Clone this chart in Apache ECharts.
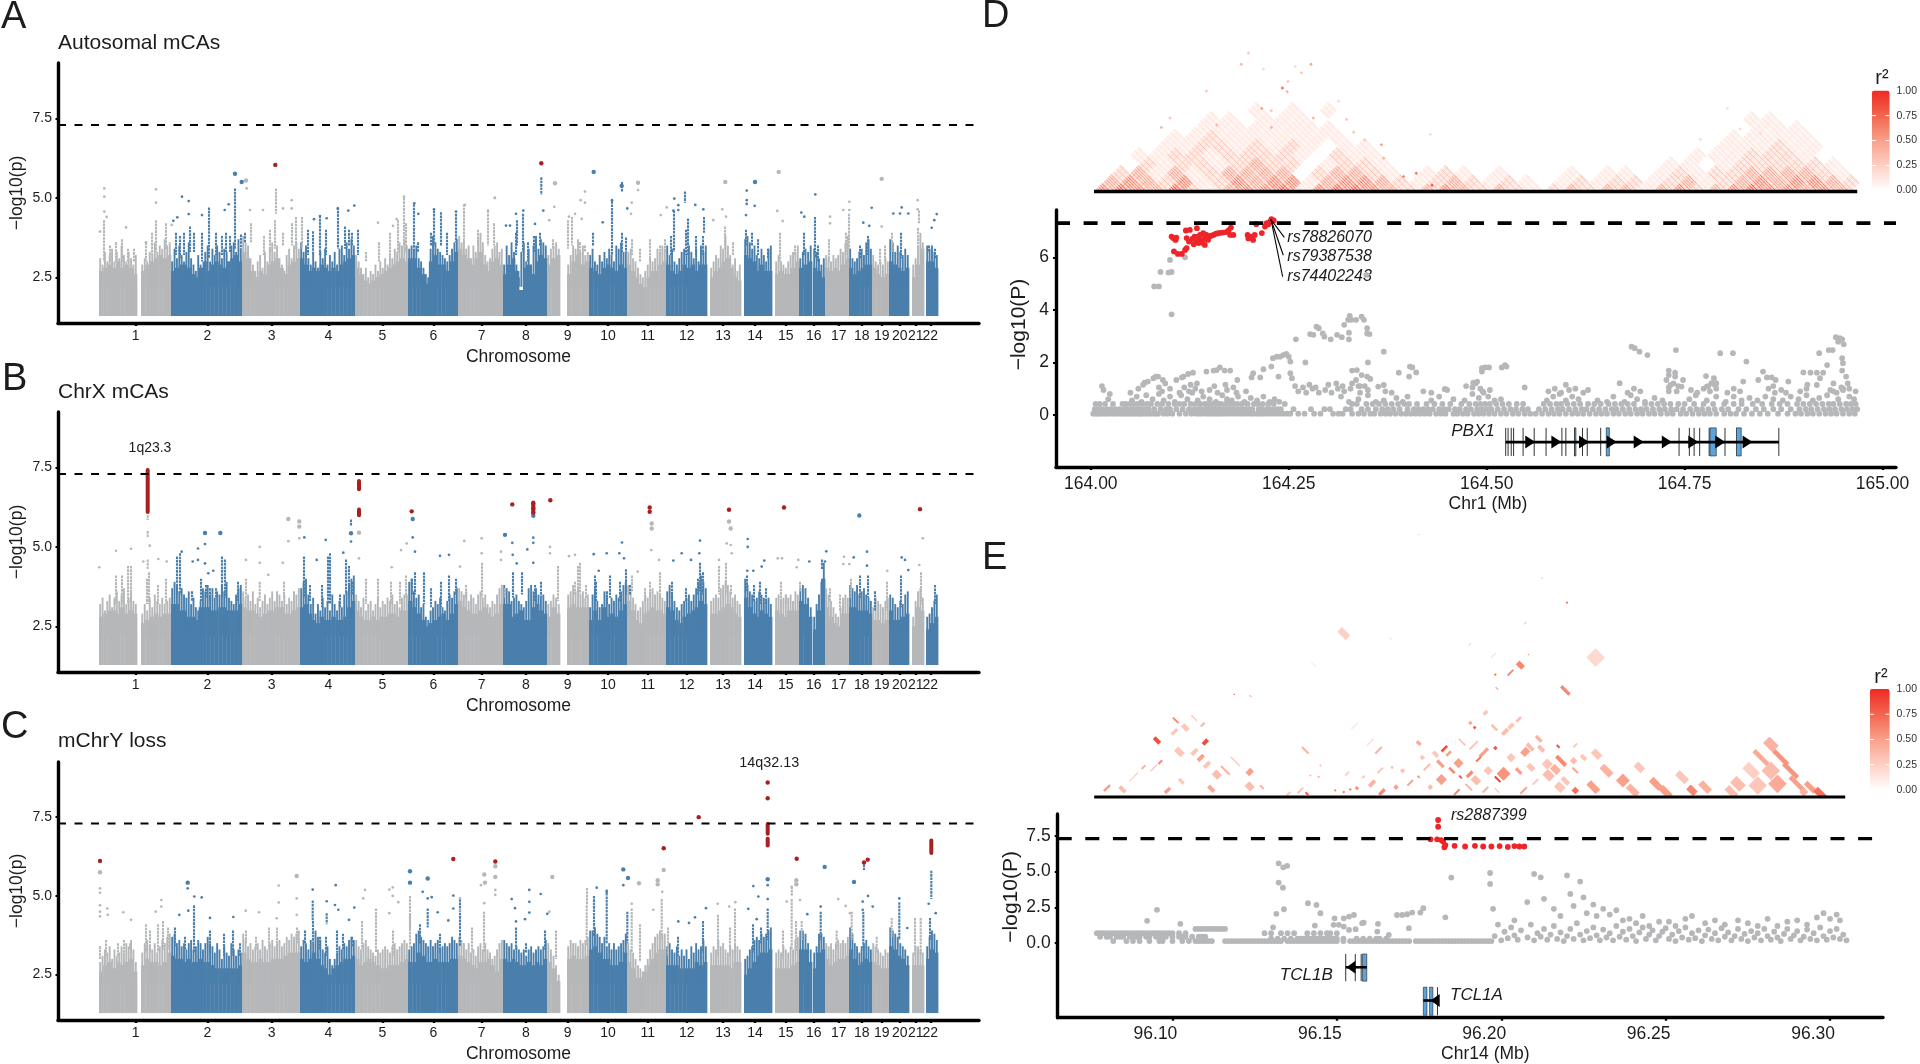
<!DOCTYPE html>
<html><head><meta charset="utf-8">
<style>html,body{margin:0;padding:0;background:#fff}#c{width:1920px;height:1064px}</style>
<script src="https://cdn.jsdelivr.net/npm/echarts@6/dist/echarts.min.js"></script></head>
<body><div id="c"></div>
<script>
// ---------- Manhattan: shared genome scale (position units along the concatenated genome)
const chrNames=['1','2','3','4','5','6','7','8','9','10','11','12','13','14','15','16','17','18','19','20','21','22'];
const chrTicks=[135.7,207.3,271.7,328.3,382.3,433.3,481.7,526,567.7,608,647.7,686.7,723,755,785.7,813.7,838.7,861.7,881.7,899.7,915.7,930.3];
const segments=[[99,137,1],[141,171,1],[171,242,2],[242,300,3],[300,355,4],[355,408,5],[408,458,6],[458,503,7],[503,547,8],[547,560,9],[567,589,9],[589,627,10],[627,666,11],[666,707,12],[710,741,13],[744,772,14],[775,799,15],[799,812,16],[813,825,16],[825,849,17],[849,872,18],[872,889,19],[889,909,20],[912,924,21],[926,938,22]];
const threshold=7.3, floorP=1.28, solidTrim=.3;
// envelope of the near-solid part of each segment
const skyA=[[3,3.1,3.2,3.1,3.3,3.1,3.2,3.1,2.9],[3,3.2,3.3,3.4,3.5,3.4,3.5],[3,3.1,3.2,3.2,3.1,2.9,2.8,3.1,3.3,3,3.2,3.3,3.2,3.1,3.3,3.4,3.5,3.3],[3.6,3.4,3,2.8,3,2.9,3.2,3.3,3.4,3.1,2.9,3.2,3.3,3.4],[3.4,3.2,3,3.1,3,3.2,3.1,3,3.1,3,3.2,3.3,3.4,3.5],[3.1,2.9,2.7,2.6,2.7,2.8,2.9,3,3.1,3.2,3.3,3.4,3.3],[3.4,3.4,3.1,2.9,2.6,3.3,3.5,3.2,3.2,3,3.3,3.6],[3.7,3.5,3.4,3.2,3.4,3.6,3.2,3,3.3,3.4,3.2],[2.9,3.2,3.4,3,2.4,3.1,3.2,2.9,3.3,3.5,3.4],[3.2,3.4,3.5],[2.9,3.3,3.5,3.2,3.3],[3.1,3,2.9,3.1,3.2,3.1,3,3.2,3.1],[3.2,3,2.8,2.6,2.5,2.8,3,3,3.2,3.3],[3.2,3,2.9,3,3.2,3.1,3.2,3,3.2,3.2],[2.8,3,3.1,3.3,3.4,3.1,2.8,2.7],[3.5,3.4,3.3,3,3.2,3,3],[2.9,3,2.9,2.9,3.1,3.3],[3.1,3.2,3.3],[3.1,3,2.8],[3.1,3,3.1,3,3.2,3.4],[3.1,2.9,3,3.1,3.2,3.2],[3.1,2.9,2.8,2.9],[3.3,3.2,3.1,3,3.1],[2.8,3.2,3.7],[3.3,3.3,3.1]];
const skyB=[[3.1,3.2,3.3,3.3,3.2,3.4,3.2,3.3,3.2],[2.9,3,3.1,3.2,3.1,3.2,3.2],[3.5,3.5,3.3,3.3,3.1,3.1,3,3.4,3.4,3.4,3.3,3.3,3.4,3.4,3.3,3.3,3.3,3.5],[3.4,3.3,3.3,3.2,3.1,3.2,3.3,3.3,3.4,3.4,3.2,3.2,3.3,3.4],[3.4,3.5,3.2,3,2.9,3.1,3,3,3.1,3,3,3.1,3.4,3.6],[3.3,3.1,3,3,3.1,3,3.1,3.1,3.2,3.2,3.1,3.3,3.3],[3.6,3.4,3.2,3,2.8,2.9,3,3.1,3.2,3,3.2,3.5],[3.6,3.4,3.3,3.2,3.2,3.3,3.4,3.2,3.1,3.2,3.5],[3.5,3.5,3.1,3.2,3.3,3,3,3.4,3.5,3.3,3.2],[3.1,3.4,3.2],[3.4,3.5,3.4,3.4,3.4],[3,3.3,3,3.4,3.1,3.2,3.1,3.3,3.5],[3.6,3.3,3,2.9,3.2,3.3,3.4,3.3,3.3,3.2],[3.4,3.3,3,2.9,3.1,3.2,3.3,3.4,3.6,3.5],[3.2,3.2,3.3,3.4,3.5,3.4,3.2,3.1],[3.7,3.4,3.2,3.1,3.3,3.2,3.1],[3.3,3.2,3.1,3.3,3.3,3.3],[3.6,3.5,3.1],[2.7,3.3,4.3],[3.4,3.1,2.9,2.8,3.2,3.2],[3.4,3.4,3.3,3.3,3.3,3.2],[3,3,2.9,3],[3.3,3,3,3.1,3.2],[2.8,3.4,3.3],[2.7,2.9,3.1]];
const skyC=[[2.9,3.1,3.2,3,3.2,3.1,3.2,3.3,2.9],[3.1,3.3,3.2,3.2,3.1,3.2,3.5],[3.4,3.3,3.3,3.2,3.3,3.2,3.2,3.3,3.2,3.2,3.1,3,3,3,3,3,3,3.1],[3.5,3.3,3.2,3.2,3.3,3.2,3.2,3.3,3.3,3.3,3.4,3.5,3.5,3.5],[3.3,3.2,3.3,3.5,3.3,3.1,3,2.8,3,3.1,3.2,3.3,3.3,3.4],[3.3,3.1,3.2,3.3,3.2,3.1,3,3,3.1,3.1,3.1,3.2,3.3],[3.2,3.2,3.5,3.4,3.2,3.2,3.3,3.2,3.2,3.2,3.3,3.3],[3.4,3.3,3.2,3.1,3,3.2,3.2,3.3,3.1,2.9,3.3],[3.3,3.2,3.3,3.2,3.1,3.1,3.2,3.1,3.2,3.1,3.3],[3.2,3,2.6],[3.3,3.4,3.3,3.3,3.4],[3.6,3.7,3.5,3.3,3.3,3.1,3.1,3.2,3.5],[3.2,3,2.7,2.7,2.9,3.1,3.3,3.5,3.6,3.6],[3.1,3.1,3.1,3,3,3,3,3.2,3.1,3.2],[3.1,3.1,3.1,3.1,3.1,3,3.2,3.2],[2.8,3,3.2,3.4,3.5,3.5,3.6],[3,3,3,3,3.1,3.2],[3.6,3.6,3.2],[3,3.5,3.6],[3.3,3.1,3.2,3.3,3.3,3.4],[3.6,3.3,3.1,3.2,3.3,3.2],[3.2,3.1,3,3],[3.7,3.6,3.4,3.3,3.1],[3.1,3.1,3.1],[3.3,3.6,3.5]];
// jagged fringe above the solid part, evenly across each segment
const fringeA=[[3.1,2.9,3.3,3,3.2,3.4,3,3.3,3.1,3.5,3.2,3,3.3,3.1,2.9,3.2],[2.9,3.1,3,3.3,3.2,3.6,3.3,3.5,3.4,3.7,3.5,3.6],[3,3.4,3.1,3.5,3.2,3,3.3,3.6,3.1,2.9,2.7,3.2,2.9,2.8,3.3,3.5,3,3.4,3.2,3.5,3.3,3.1,3.4,3.3,3,3.5,3.6,3.3,3.7,3.4],[3.8,3.6,3.5,3.1,2.9,2.7,3,3.2,2.8,3.3,3,3.4,3.6,3.3,3.5,3.1,2.9,2.7,3.2,3.4,3.1,3.5,3.6,3.4],[3.6,3.3,3.5,3.1,2.9,3.3,3,2.8,3.3,3.1,3.4,2.9,3.2,3,3.3,2.9,3.4,3.5,3.2,3.6,3.4,3.7,3.5],[3.2,3,2.8,2.6,2.8,2.5,2.7,2.6,2.9,2.7,3,2.8,3.1,2.9,3.2,3.1,3.4,3.3,3.6,3.5,3.7,3.5],[3.4,3.5,3.4,3.5,3.1,3,2.8,2.6,2.5,3.4,3.8,3.6,3.4,3.3,3.2,3.1,3,3.2,3.4,3.6,3.7],[3.8,3.6,3.7,3.4,3.5,3.1,3.5,3.3,3.7,3.9,3.6,3.2,3,3.1,3.4,3.5,3.6,3.3,3.4],[2.9,3.5,3.2,3.6,3.3,2.9,2.5,3.3,3.6,3,3.4,2.9,3.5,3.8,3.4,3.7,3.6,3.5],[3.2,3.4,3.5,3.6,3.4],[2.9,3.2,3.5,3.4,3.7,3.3,3.5,3.2,3.3],[3.2,3.4,3,2.9,3.2,3,3.3,3.1,3.4,3.2,3,3.5,3.4,3.6,3.3,3.3],[3.3,3.4,3.1,3,2.8,2.6,2.5,2.7,2.9,3.1,3,3.1,3.4,3.3,3.5,3.4],[3.5,3.2,3.4,3,2.9,3.1,3.3,3.4,3.2,3.5,3.3,3.1,3.4,3,3.5,3.3,3.5],[2.8,3,3.2,3.1,3.5,3.4,3.8,3.5,3.2,2.9,3.1,2.7,2.9],[3.7,3.8,3.6,3.4,3.5,3.2,3.1,3.4,3.2,3,3.4,3.5],[3,3.2,3,2.9,2.8,3,3.2,3.3,3.3,3.5],[3.1,3.3,3.4,3.3,3.5],[3.4,3.3,3.1,2.9,3.1],[3.2,3.1,3,3.2,3.1,3.2,3.4,3.3,3.6,3.8],[3.4,3.1,3,3.1,3.3,3.4,3.2,3.6,3.7,3.4],[3.2,3,2.9,3,2.9,3.1,3],[3.7,3.6,3.3,3.5,3.3,3.2,3.4,3.2],[2.9,3.1,3.5,3.9,3.6],[3.5,3.4,3.5,3.3,3.2]];
const fringeB=[[3.2,3.4,3,3.3,3.5,3.1,3.4,3.6,3.3,3.5,3.7,3.2,3.4,3.6,3.3,3.2],[2.9,3.2,3,3.4,3.1,3.5,3.3,3.2,3.4,3.2,3.3,3.4],[3.7,3.9,3.8,3.6,3.7,3.5,3.4,3.6,3.2,3.4,3.1,3,3.3,3.7,3.6,3.8,3.5,3.7,3.4,3.6,3.5,3.8,3.6,3.9,3.4,3.3,3.2,3.5,3.7,3.8],[3.6,3.4,3.5,3.3,3.6,3.2,3.4,3.1,3.3,3.5,3.2,3.4,3.6,3.3,3.6,3.5,3.3,3.5,3.2,3.4,3.3,3.6,3.5,3.7],[3.7,3.9,4,3.5,3.2,3.4,2.9,3.2,3,3.4,3.1,3.3,3,3.5,3.2,3,3.3,3.1,3.5,3.6,3.8,4,4.1],[3.5,3.3,3.1,3.4,3,3.2,3.3,3,3.2,3.4,3.1,3.3,3.2,3.4,3.3,3.5,3.2,3.3,3.1,3.4,3.5,3.5],[3.9,4,3.6,3.4,3.5,3.1,3.2,2.8,2.7,3,3.1,3.3,3.2,3.4,3.1,3,3.3,3.5,3.4,3.6,3.7],[3.7,3.6,3.5,3.6,3.3,3.5,3.4,3.2,3.5,3.6,3.4,3.5,3.2,3.1,3.3,3.2,3.5,3.7,3.8],[3.8,3.7,3.6,3.3,3.4,3.5,3.3,3.2,3.1,3.3,3.7,3.8,3.6,3.7,3.5,3.4,3.5,3.3],[3.2,3.3,3.5,3.4,3.2],[3.5,3.6,3.8,3.6,3.7,3.5,3.6,3.4,3.5],[3.1,3.5,3.7,3.3,3.1,3.2,3.6,3.5,3.2,3.4,3.3,3.5,3.4,3.6,3.8,3.9],[3.8,3.6,3.4,3.2,3,3.1,3.3,3.5,3.4,3.6,3.7,3.5,3.6,3.5,3.4,3.3],[3.6,3.8,3.5,3.3,3.1,3,3.2,3.3,3.4,3.5,3.3,3.5,3.7,3.9,4.1,3.9,3.7],[3.3,3.4,3.5,3.4,3.7,3.8,3.9,3.8,3.6,3.4,3.5,3.3,3.2],[4,3.8,3.6,3.5,3.3,3.4,3.6,3.5,3.4,3.3,3.4,3.2],[3.4,3.5,3.3,3.4,3.5,3.4,3.5,3.3,3.6,3.5],[3.7,3.8,3.7,3.4,3.1],[2.8,3.2,3.5,3.9,4.5],[3.7,3.5,3.3,3.1,2.9,2.8,3.1,3.4,3.5,3.4],[3.8,3.7,3.6,3.8,3.5,3.6,3.7,3.5,3.4,3.3],[3.1,3.4,3.3,3.2,3.1,3.3,3.4],[3.5,3.4,3.2,3.1,3.3,3.2,3.5,3.6],[2.8,3.3,3.6,3.7,3.4],[2.8,2.9,3.1,3.3,3.5]];
const fringeC=[[2.9,3.1,3.3,3.2,3.4,3,3.3,3.1,3.2,3.4,3.2,3.5,3.4,3.6,3.3,2.9],[3.2,3.5,3.6,3.4,3.3,3.5,3.2,3.4,3.6,3.5,3.7,3.8],[3.7,3.8,3.5,3.6,3.4,3.5,3.3,3.5,3.6,3.3,3.4,3.6,3.5,3.3,3.5,3.7,3.5,3.4,3.2,3.5,3.3,3,3.4,3.2,3.1,3.5,3.3,3.1,3.3,3.2],[3.8,3.6,3.4,3.5,3.3,3.4,3.5,3.3,3.6,3.4,3.3,3.5,3.6,3.4,3.5,3.6,3.4,3.5,3.7,3.6,3.8,3.7,3.8,3.9],[3.4,3.6,3.5,3.3,3.6,3.5,3.9,3.7,3.6,3.3,3.2,3.4,3,2.8,3,3.2,3.4,3.3,3.5,3.4,3.6,3.7,3.6],[3.6,3.4,3.3,3.5,3.6,3.4,3.3,3.2,3.1,3.3,3.2,3.3,3.4,3.3,3.2,3.4,3.5,3.3,3.4,3.5,3.6,3.5],[3.3,3.4,3.5,3.8,3.9,3.7,3.6,3.5,3.4,3.6,3.4,3.5,3.6,3.3,3.4,3.5,3.4,3.5,3.7,3.6,3.5],[3.7,3.6,3.5,3.3,3.5,3.2,3.3,3.1,3.4,3.5,3.3,3.5,3.3,3.2,3,3.1,3.3,3.5,3.6],[3.6,3.5,3.4,3.5,3.3,3.4,3.3,3.2,3.3,3.1,3.3,3.4,3.2,3.3,3.4,3.3,3.4,3.6],[3.5,3.3,3.1,2.8,2.5],[3.4,3.6,3.5,3.5,3.4,3.6,3.5,3.6,3.7],[3.9,3.9,4,3.8,3.7,3.5,3.7,3.4,3.5,3.3,3.5,3.3,3.4,3.5,3.6,3.8],[3.5,3.3,3.2,3,2.8,2.7,2.6,2.8,3,3.3,3.5,3.7,3.8,3.9,3.8,3.8],[3.4,3.5,3.3,3.2,3.4,3.1,3.3,3.1,3.3,3,3.4,3.2,3.5,3.3,3.4,3.6,3.4],[3.2,3.4,3.3,3.6,3.4,3.5,3.3,3.2,3.4,3.3,3.5,3.4,3.3],[3,3.1,3.3,3.4,3.6,3.7,3.6,3.8,3.7,3.8,3.9,4],[3.2,3.3,3.2,3.4,3.3,3.2,3.4,3.3,3.6,3.7],[3.9,3.9,3.8,3.5,3.3],[3.2,3.4,3.8,3.8,3.7],[3.5,3.4,3.5,3.3,3.5,3.6,3.5,3.6,3.5,3.7],[4,3.8,3.5,3.4,3.2,3.4,3.5,3.6,3.4,3.3],[3.5,3.4,3.3,3.2,3.1,3.3,3.2],[4,3.9,3.8,3.7,3.5,3.4,3.3,3.1],[3.2,3.4,3.4,3.3,3.2],[3.4,3.7,3.9,3.8,3.6]];
// dotted columns: position, low, high
const stemsA=[104,3,4.3,110,3,3.5,116,3,3.6,122,3,3.7,128,3,3.4,134,3,3.4,146,3,3.6,152,3.2,3.9,156,3.3,4.3,166,3.4,4.2,176,3.2,3.9,180,3.1,3.8,184,3.2,3.9,190,3.3,4.1,194,3.3,3.9,202,3,3.9,209,3.1,4.7,216,3.2,3.9,222,3.2,3.8,226,3.3,3.9,230,3.3,3.8,235,3.4,5.3,241,3.4,3.85,245,3.6,3.9,251,3.6,4.2,264,3.2,3.8,270,3.3,4,275,3.4,4.3,276,4.5,5.3,283,3.5,3.9,292,3.5,4.2,296,3.4,4.4,302,3.4,4.4,308,3.2,4,313,3.2,3.95,320,3.2,4.45,326,3.2,4,338,3.4,4.7,345,3.4,4.1,349,3.5,4,352,3.5,3.9,358,3.2,4,366,3,3.3,379,3,3.6,390,3.2,3.9,398,3.3,4.3,404,3.5,5,406,3.3,4.2,414,3.4,4.8,418,3.3,3.6,431,3.5,3.9,434,3.5,4.6,441,3.5,4.55,447,3.2,3.9,456,3.6,4.5,464,3.7,4.8,478,3.5,4,488,3.5,4.6,494,3.5,4.2,516,3.2,3.9,517,3.5,4.3,523,3.3,4.5,528,3,3.6,534,3.3,3.8,540,3.5,3.9,541.3,5.1,5.65,553,3.4,3.7,568,3.4,4.3,572,3.5,4.4,580,3.2,3.6,585,3.3,3.5,593,3.5,3.9,612,3.2,4.9,622,3.3,3.9,626,3.3,3.75,622,5.2,5.5,632,3.2,3.7,640,3,3.4,650,3,3.7,660,3.2,3.5,665,3.3,3.7,671,3.2,3.8,674,3.3,4.6,686,3.2,4,685,4.85,5.2,688,3.2,4.35,696,3.2,3.8,703,3.2,3.8,704,3.9,4.4,725,3.4,4.1,733,3.2,3.6,746,3.5,4,752,3.5,3.9,758,3.2,3.7,768,3.1,3.4,780,3,3.9,795,3.2,3.5,804,3.2,3.9,815,3.1,4.4,818,3,3.5,829,3,3.7,846,3.2,3.9,849,3.4,4.5,860,3.1,3.5,868,3.2,3.8,880,2.9,3.4,885,3,3.5,892,3.3,3.9,901,3.1,3.9,918,3.5,4.05,919,4.2,4.6,929,3.3,3.5,935,3.1,3.4];
const stemsB=[116,3.2,4.1,122,3.2,4.1,128,3.2,4.4,131,3.3,4.4,147,3.2,4,147.7,4.3,4.6,147.7,5.3,5.5,147.7,5.85,6,149,3.2,4.2,158,3.2,3.8,166,3.2,4,177,3.5,4.7,180,3.5,4.8,192,3.3,3.6,201,3.3,4,206,3.4,3.8,210,3.3,3.7,216,3.4,3.7,222,3.4,4.7,225,3.4,4.6,238,3.3,3.9,246,3.4,4,259.7,3.3,3.9,284,3.4,3.9,304,3.4,4.7,310,3.3,3.8,322,3.1,3.8,328,3.2,4.7,330,3.2,4.8,340,3.1,3.5,346,3.5,4.6,349,3.5,4.4,351,5.66,5.86,352,3.5,3.9,366,3.2,4,378,3.2,4,391,3.2,3.9,400,3.2,3.9,406,3.4,4.1,412,3.5,4,415,3.5,4.2,424,3.2,4.2,431,3.1,3.7,441,3.1,3.9,449,3.3,4.1,456,3.5,4,466,3.4,3.8,482,3.4,4.5,505,3.4,3.7,513,3.4,4.2,522,3.5,4.2,535,3.3,3.8,541,3.4,3.9,558,3.3,4.4,575,3.5,3.9,578,3.5,4.4,580,3.5,4.5,586,3.4,3.8,595,3.3,4.1,596,3.3,3.9,607,3.2,3.6,610,3.4,4.1,620,3.3,3.9,626,3.5,4.3,630,3.5,3.8,632,3.6,4.1,645,3.3,3.7,650,3.4,3.9,660,3.4,4.2,672,3.4,3.9,686,3.3,3.7,698,3.5,4,700,3.6,4.5,703,3.5,4.2,719,3.5,4.4,726,3.5,4.5,731,3.5,3.8,747,3.6,4.1,754,3.3,3.8,760,3.2,3.9,766,3.2,3.7,781,3.3,3.9,786,3.2,3.5,800,3.6,3.9,822,4.3,4.6,830,3.3,3.7,840,3,3.5,851,3.4,4,860,3.4,4.1,868,3.4,4.1,875,3,3.6,887,3,3.9,901,3.1,4.1,921,3.2,4.2,935,3.2,3.8];
const stemsC=[100,3,3.4,106,3.1,3.6,118,3.1,3.5,124,3.2,3.6,130,3.3,3.5,146,3.2,4.1,150,3.2,3.9,158,3.2,4.1,163,3.3,4.2,168,3.3,4,175,3.4,4,185,3.3,3.7,194,3.2,4.7,210,3.2,3.9,224,3.1,3.8,233,3.1,3.9,240,3.1,3.5,246,3.5,3.9,256,3.3,3.7,269,3.3,4,277,3.3,4,297,3.5,4,305,3.5,3.9,313,3.5,4.2,312.7,4.2,4.85,320,3.3,3.7,326,3.1,3.7,326.7,4.1,4.45,337,3.2,3.9,343,3.3,3.8,352,3.4,3.7,362,3.3,4.2,376,3.2,4.6,393,3.1,3.9,410,3.3,4.4,410,3.9,5,420,3.5,4.1,427.7,4,4.6,440,3.2,3.8,460,3.4,4.9,472,3.2,4,484,3.2,4.5,516,3.3,4,526,3.2,3.5,545,3.3,3.9,556,3,3.9,586.7,3.4,4.7,587,4.7,5.25,594,3.7,5,606.7,3.5,5.2,627.3,3.5,4.5,631.7,3.2,4.6,640,2.9,4.1,661.7,3.6,4.9,668,3.1,4,678,3.1,3.7,703,3.2,4.2,718,3.1,4.4,730,3.1,4,735,3.2,4.6,753,3.2,4.1,761,3.5,4,767.7,3.6,4.6,783,3,3.9,791.7,3.3,4.9,791.8,5,5.3,796,3.2,4.2,801.7,3.6,4.2,820.7,3.6,4.5,836.7,3.3,3.9,851.7,3.6,4.5,863.3,3.3,4.5,864,5.82,6,876.7,3.2,3.7,891.7,3.7,4.3,899.3,3.6,4.8,915,3.1,4.3,920.7,3.1,4.3,930,3.6,4.3,931.3,4.9,5.8];
const redStemsB=[147.7,6.1,7.42,359,6.82,7.08,359,6,6.18,533.3,6.08,6.4];
const redStemsC=[767.7,6.97,7.28,767.7,6.6,6.81,931.3,6.36,6.76];
const redStemsA=[];
// single points: position, -log10(p)
const redA=[275.3,6.04,541.3,6.09];
const greyA=[104.3,5.3,104.3,5.04,104.3,4.57,106.7,4.4,100,3.94,126,4.07,156,5.27,156,4.85,171.7,4.15,146,3.6,246,5.55,246.7,5.3,250,4.62,263,4.62,291.7,4.93,291.7,4.67,283,4.67,404,5.04,378,4.22,393,4.12,396.7,4.33,465,4.78,488,4.6,495,5,555,5.46,554.3,4.72,549.3,4.3,494.7,5,585,5.2,580.7,4.93,585,4.85,569,4.41,575,4.5,581.7,4.34,638,5.48,638,5.25,631.7,4.85,631,4.5,660.7,4.46,666.7,4.7,725.3,5.5,722.3,4.64,713.3,4.3,726,4.41,778.7,5.82,777.3,4.59,782.7,4.27,830,4.41,830,4.2,843.3,4.62,849.3,4.88,849.3,4.62,881.7,5.6,881.7,4.1,917.7,4.93,917.7,4.64];
const blueA=[235,5.76,241.7,5.5,182,5.04,188.7,4.9,188.7,4.49,177.3,4.39,173.3,4.28,202,4.46,224.7,4.62,228.7,4.8,337.7,4.67,348.3,4.6,354.3,4.76,320,4.43,314,4.33,326.7,4.36,414.3,4.83,418.3,4.5,434,4.64,456,4.57,593.7,5.82,621.7,5.38,612,4.93,602.7,4.23,627.3,4.67,543.3,4.6,523.3,4.6,516,4.5,506,4.13,510,4.13,535,4.18,674.3,4.98,678.3,4.77,678.3,4.62,673.3,4.6,695.3,4.78,703.3,4.64,755,5.5,746.7,5.23,746.7,4.93,746.7,4.81,754.7,4.75,746,4.46,815.3,5.11,801.3,4.54,804.3,4.41,871.7,4.69,863.3,4.22,869.3,4.12,893.3,4.51,901.7,4.7,900,4.51,908.3,4.51,936.7,4.49,934.3,4.3,931.7,4.06];
const redB=[411.7,6.12,512.3,6.34,533.3,6.37,533.3,6.21,533.3,6.08,550.3,6.47,649.7,6.24,649.7,6.11,729,6.17,784,6.24,920,6.19];
const greyB=[288.3,5.88,299.3,5.8,299.3,5.64,299.3,5.27,288.3,5.18,259.7,5,259.7,4.5,246,4.59,282.7,4.5,268.3,4.12,359,5.45,359,4.64,406.7,5.11,401,4.9,391.7,4.36,99.3,4.36,116,4.88,131,4.94,149.7,5.04,143.3,4.54,158.3,4.62,166.7,4.54,464.3,5.19,481.7,5.27,481.7,4.8,460,4.38,501,4.85,501,4.59,550,5,550,4.8,569,4.71,575,4.75,651.7,5.74,651.7,5.58,651.3,4.9,659,4.59,637.7,4.22,729,5.8,730.7,5.58,726.7,5.11,730.7,5.06,731.7,4.8,719,4.59,777.7,4.64,782,4.64,798.3,4.59,796.7,4.36,844,4.69,849.3,4.46,843.3,4.46,922.7,5.27,919.3,4.43,887.3,4.25];
const blueB=[205,5.44,220.3,5.44,205,5.09,198,4.95,192.7,4.54,198,4.59,205,4.48,181.7,4.85,213.3,4.25,208.3,4.17,351,5.43,351,5.17,343.3,4.82,325.7,5.22,304.3,5.3,316.7,4.59,412.7,5.88,412.7,5.3,415,4.85,440,4.72,449,4.75,505,5.38,533.3,5.29,533.3,5.13,512.3,5.13,527.3,4.92,512.7,4.75,533.3,4.5,516.7,4.48,533.3,5.98,622,5.14,606.7,4.8,593.7,4.77,619.3,4.8,624,4.64,598.7,4.25,700,5.2,699.3,4.8,681.7,4.8,673.3,4.57,691,4.59,747.7,5.25,747.7,5,747.3,4.25,753.3,4.25,764.3,4.57,761.7,4.38,809.3,4.54,826.3,4.86,825,4.54,859.3,5.99,867,4.85,853.7,4.67,867,4.41,901.7,4.67,905,4.59,908.3,4.27];
const redC=[100,6.11,453.3,6.17,495.3,6.09,698.7,7.5,663.7,6.51,767.7,8.6,767.7,8.1,796.7,6.18,864,6.06,867.7,6.15];
const greyC=[100,5.75,100,5.24,100,5.1,100,4.7,100,4.5,100,4.35,107.3,4.6,107.7,4.4,123.3,4.48,131,4.24,155.7,4.5,161.3,4.87,161.3,4.66,245.7,4.53,259,4.48,278.7,5.33,278.7,4.79,276.7,4.29,296.7,5.63,296.7,4.92,296.7,4.4,365,5.19,363.3,4.92,389.3,5.2,392.7,5.27,392.7,5,398.3,4.8,389.3,4.45,460,4.92,460,4.56,481,5.34,484.3,5.68,485,5.42,495.3,5.94,495.3,5.6,495.3,5.19,495.3,5.03,484.3,4.77,552.3,5.6,549.3,4.5,639,5.4,631.7,4.75,657.7,5.5,657.7,5.37,663.7,5.82,662.3,5.13,653.3,4.56,717.7,4.75,729.3,4.66,735.3,4.8,796.3,5.5,796.3,5.37,791.7,5.29,786.7,4.82,800,4.87,838.3,4.9,845.7,4.68,850,4.45];
const blueC=[187.7,5.42,187.7,5.24,201.7,4.95,194.3,4.98,188.3,4.53,179.3,4.4,210,4.3,233.3,4.33,312.7,5.2,335.7,5.34,326.7,4.83,335,4.71,338.3,4.56,349,4.24,354.3,4.63,410,5.78,410,5.42,427.7,5.55,422.7,5.13,427.7,4.92,431.7,4.96,453.3,5.01,448.3,4.22,453.3,4.6,437.7,4.48,623.3,5.84,628,5.57,623.3,5.34,596.7,5.26,606.7,5.13,529.3,5.19,540.7,5.06,529.3,4.81,511.7,4.9,515,4.61,529.3,4.47,516,4.19,525,4.26,547.3,4.43,706,4.61,695,4.32,678.3,4.19,689,4.14,748.3,4.59,753.3,5.31,758.3,4.98,756.7,4.26,767.7,5.53,767.7,5.34,767.7,4.9,824.7,5.92,807.3,4.42,820.7,4.66,854,5.44,868,5,862.7,4.82,872.7,4.66,862.7,4.56,899.3,4.92,907.3,3.98,935.7,4.45,928.7,4.75];

// ---------- Panel D, kb offset from 164000 on Chr1
const dRed=[104,6.73,102,6.79,107,6.66,105,6.22,110,6.13,115,6.13,119,6.28,121,6.35,120,7.02,125,7.04,134,7.11,121,6.73,124,6.6,131,6.79,134,6.6,138,6.85,142,6.92,144,6.73,146,6.85,136,6.54,144,6.47,148,6.66,150,6.79,155,6.85,161,6.92,167,6.94,174,7.02,177,7.13,176,6.85,180,6.85,198,6.85,201,6.79,205,6.66,207,6.85,216,6.92,220,7.17,222,7.3,228,7.45,231,7.4,209,7.26,128,6.7,130,6.5,136,6.8,139,6.65,141,6.55,147,6.7,152,6.82,158,6.9,164,6.93,171,6.96,203,6.78,199,6.72,226,7.35,224,7.25,108,6.75];
const dGrey=[100,5.9,119,6,88,5.44,98,5.42,102,5.44,80,4.89,86,4.89,102,3.83,348,5.33,259,2.88,277,3.08,281,3.05,285,3.36,288,3.3,293,3.1,295,2.98,303,2.88,311,3.05,317,2.96,326,2.88,326,3.13,320,3.43,325,3.62,327,3.77,329,3.62,335,3.62,342,3.74,345,3.62,349,3.3,349,3.1,352,3.08,370,2.41,350,2,271,2,230,2.16,235,2.22,239,2.22,243,2.28,247,2.32,250,2.22,252,2.03,228,1.84,218,1.74,205,1.59,203,1.43,214,1.43,237,1.46,252,1.59,254,1.4,163,1.81,146,1.65,155,1.69,159,1.71,169,1.69,176,1.69,185,1.33,129,1.61,123,1.56,117,1.46,108,1.33,115,1.43,82,1.46,91,1.33,68,1.23,72,1.27,79,1.4,85,1.46,330,1.69,336,1.71,342,1.52,335,1.33,349,1.46,353,1.37,340,1.1,346,1.1,363,1.08,370,1.14,389,1.61,403,1.84,406,1.81,411,1.62,402,1.46,448,.98,683,2.6,687,2.54,693,2.41,703,2.28,739,2.47,795,2.35,811,2.35,828,2.03,941,2.96,946,2.92,949,2.88,951,2.69,944,2.79,920,2.35,932,2.47,937,2.47,949,2.16,950,1.97,930,1.9,949,1.69,954,1.46,494,1.78,498,1.81,503,1.81,494,1.65,519,1.81,523,1.9,525,1.84,483,1.23,488,1.27,548,1.05,447,.98,668,1.21,730,1.69,730,1.52,738,1.61,738,1.46,748,1.33,727,1.33,732,1.14,746,1.08,777,1.48,787,1.4,784,1.21,790,1.21,778,1.08,824,1.27,849,1.65,843,1.33,854,1.43,860,1.43,865,1.33,900,1.62,909,1.61,917,1.61,925,1.61,921,1.4,917,1.14,881,1.27];
const dUpper=[22,.6,52,.55,58,.7,64,.5,70,.75,78,.6,86,.8,92,.55,100,.7,106,.5,114,.75,122,.6,128,.85,135,.55,142,.7,150,.6,158,.5,166,.75,172,.6,178,.55,186,.7,194,.5,202,.65,210,.55,218,.7,226,.5,232,.6,238,.5,316,.7,326,.5,338,.6,350,.75,360,.5,370,.55,386,.65,394,.5,400,.7,430,.55,440,.7,458,.6,472,.55,482,.8,490,.65,495,.9,502,.7,510,.55,518,.6,576,.55,584,.7,592,.8,600,.55,608,.7,616,.6,640,.55,652,.5,660,.7,674,.5,682,.75,690,.6,700,.5,712,.65,722,.55,730,.9,756,.6,764,.75,778,.55,790,.7,802,.5,812,.7,822,.55,832,.65,842,.55,852,.7,862,.6,874,.55,884,.7,894,.6,904,.75,912,.55,920,.65,930,.75,938,.9,944,.6,950,1,958,.7,964,.6,16,.95,24,.8,14,1.1,50,.85,60,1,66,1.15,90,.9,86,1.05,100,1,94,1.2,112,.85,118,1.05,124,.9,126,1.15,132,1,140,.9,134,1.2,150,.95,160,.85,156,1.1,172,.95,170,1.15,184,.85,180,1.05,196,.9,262,.9,258,1.1,272,.85,268,1.05,280,1,276,1.15,288,.85,284,1.05,296,.95,300,1.15,304,.85,312,1,310,1.2,320,.9,318,1.1,328,1,330,1.2,340,.85,338,1.1,350,.95,372,.9,380,.85,420,.9,430,.85,450,.95,474,1.1,482,1.05,486,1.2,492,1,496,.85,504,.95,578,.9,586,1,594,.85,604,.95,600,1.15,612,1,622,.85,628,.95,678,.85,686,1,694,.9,730,1.05,736,1.2,740,.9,742,1.1,758,.95,766,.85,774,1,782,.9,780,1.1,790,1,788,1.15,804,.85,812,1,820,.9,856,1,864,.85,862,1.1,872,.95,878,.85,896,.9,904,1,905,1.15,934,.95,938,1.2,942,.85,948,1.05,950,.95,956,1.2,958,1,966,.9];
const dRow05=[3,6,9,12,16,19,23,27,30,34,38,41,44,47,50,53,56,60,63,66,70,74,78,82,85,92,97,103,112,120,127,133,137,141,146,150,154,158,161,165,169,173,178,183,188,192,196,201,205,210,214,218,223,228,233,238,243,248,252,262,270,282,290,306,313,318,330,338,345,353,358,366,372,378,385,392,398,404,410,416,422,428,436,442,448,458,463,470,476,484,490,496,503,510,518,525,533,540,548,555,562,570,578,585,592,600,608,615,622,630,638,645,652,660,667,675,682,690,697,705,712,720,728,735,745,752,760,768,775,782,790,800,808,815,825,835,845,855,868,880,890,897,905,912,920,928,935,942,950,958,965];
const dRow22=[5,9,14,20,25,31,36,42,46,52,57,62,68,73,80,88,95,100,108,116,124,130,136,140,145,149,153,157,162,167,172,176,181,186,190,195,200,204,212,216,222,226,232,236,240,256,278,295,302,322,328,342,350,360,368,375,382,390,400,408,414,420,426,432,440,446,452,460,466,474,480,488,494,500,506,514,522,530,537,545,552,566,574,582,590,596,604,612,620,626,634,642,650,658,664,672,680,688,695,702,710,718,725,733,740,748,757,765,772,780,788,797,805,818,828,840,850,862,872,884,895,903,910,918,926,933,940,948,955,962,968];
const dRow42=[6,11,18,28,40,44,49,54,59,65,71,76,84,90,98,106,112,118,126,132,138,144,148,152,156,160,164,170,175,180,185,191,198,206,211,217,224,231,245,330,336,348,356,364,372,380,388,396,402,412,424,434,444,454,468,478,486,492,498,504,512,520,528,538,546,572,580,588,594,602,610,618,628,636,644,654,662,670,678,686,700,708,716,724,732,742,750,762,774,786,800,812,822,836,848,860,870,880,892,900,908,916,924,932,938,946,954,960,966];
// gene model PBX1 (Mb)
const pbx1Span=[164.524,164.869];
const pbx1Exons=[164.524,164.527,164.531,164.534,164.546,164.56,164.575,164.595,164.6,164.611,164.621,164.627,164.644,164.653,164.743,164.756,164.762,164.769,164.781,164.801,164.816,164.869];
const pbx1Coding=[[164.611,164.6125],[164.651,164.655],[164.782,164.79],[164.8155,164.8215]];
const pbx1Arrows=[164.555,164.588,164.623,164.658,164.692,164.7275,164.761,164.795,164.8295];
// LD D: r2 in tenths, one string per lattice row, rising from the base line
const ldDRows=["4543521344514554323432321232331342345443432","3432412434413443212321210121221231234344321","0231312333302332101210100010110121223333210","0021221232201221000000000000000110122222100","0011221222210211000000000000000001112221000","0001122121210110000000000000000000111211000","0000112111111100000000000000000000011111000","0000011111111000000000000000000000001110000","0000001101110000000000000000000000001100000","0000000010101"];
// faint isolated LD cells: kb position, kb height, r2
const ldDSpecks=[242,131,.7,248,126,.4,278,161,.5,266,150,.3,199,175,.3,216,105,.5,228,102,.3,281,93,.4,228,81,.4,367,59,.5,411,23,.7,370,42,.4,190,161,.4,218,155,.2,258,158,.2,249,139,.3,146,127,.3,100,93,.3,159,84,.4,89,81,.4,313,114,.2,323,91,.3,332,75,.3,346,65,.3,429,72,.2,395,19,.6,431,8,.8,804,105,.15,820,79,.2,770,66,.2,846,73,.2];

// ---------- Panel E, kb offset from 96000 on Chr14
const eRed=[180.8,8.6,180.8,8.13,178.5,7.25,180.5,7.25,181.7,7.2,182.3,7.1,182.7,6.7,185.8,6.8,189,6.75,183,6.85,192,6.8,194.5,6.75,197,6.75,199.5,6.78,202,6.72,204,6.78,205.5,6.75,207,6.75];
const eGrey=[132.3,5.58,133.7,5.3,134.9,5.4,132.3,4.23,133.6,3.88,131.6,2.05,133.9,2.37,130.6,1.11,141.2,2.79,143.8,2.67,145,2.09,143.3,1.23,149.3,1.74,152.1,1.74,153.7,1.86,155.2,1.97,149,1.28,150.6,1.28,152.1,1.16,153.7,.93,155.7,.98,157.7,1.4,158.2,1.44,162.5,1.35,162.3,.81,165.8,.58,168.3,1.97,169.9,1.97,171.4,2.02,172.9,2.14,175.4,2.14,176.3,2.44,171.9,1.05,183,1.81,184.8,4.58,92.3,1.56,95.3,2.33,102.4,1.35,196.6,4.9,196.6,4.14,197.5,2.4,199,1.3,204,1.6,207.9,2.87,210,4.84,212,4.6,213,3.1,216,2.4,218,1.9,220,4.73,221,3.44,222,2.6,224,4.3,225,3.2,226,2.1,228,2.7,229,1.9,231,2.4,233,2,235,2.3,237,1.6,239,1.7,241,1.4,243,1.9,245,1.2,248,1.5,251,1.5,253,1.2,256,1.7,258,1.9,262,1.4,265,1.6,268,1.3,272,1.6,275,1.4,278,1.2,281,1.7,284,1.2,287,1.5,290,1.6,293,1.3,296,1.8,298,2.1,300,1.7,302,2,303,1.6];
const eRight=[198,.5,200,.2,201,.8,202,.35,203,1.1,204,.55,205,.25,206,.9,208,.4,209,1.3,210,.2,211,.7,212,.45,213,1,214,.25,215,.6,216,1.2,217,.3,218,.75,219,.15,220,.5,221,1,222,.3,223,1.4,224,.6,225,.2,226,.85,227,.35,228,1.1,229,.55,230,.2,231,.95,232,.4,233,.7,234,.2,235,1.2,236,.45,237,.8,238,.25,239,1,240,.5,241,.15,242,.75,243,1.1,244,.3,245,.6,246,.9,247,.2,248,.5,249,.8,250,1.05,251,.3,252,.6,253,.15,254,.85,255,.4,256,1.1,257,.25,258,.7,259,.35,260,.9,261,.15,262,.55,263,.95,264,.3,265,.7,266,.2,267,1.05,268,.45,269,.75,270,.2,271,.5,272,1,273,.3,274,.65,275,.15,276,.85,277,.4,278,.7,279,.2,280,1,281,.5,282,.25,283,.8,284,.4,285,.15,286,.65,287,1,288,.3,289,.55,290,.85,291,.2,292,.45,293,.95,294,.3,295,.7,296,.2,297,1.1,298,.5,299,.25,300,.85,301,.4,302,1,303,.3,304,.6,305,.2];
const eRow70=[77,78,79,80,81,82,83,84,85,86,87,88,89,90,91,92,93,94,95,96,97,98,99,100,102,104,128,130,133,135,137,141,143,145,147,148,150];
const eRow45=[78,80,81,83,84,85,87,88,89,90,92,93,95,96,97,98,100,102,103,104,106,108,109,110];
const eRow15=[82,86,88,90,93,96,97,100,103,105,107,108,109,110,111,112,116,117,118,119,120,121,122,123,124,125,126,127,128,129,130,131,132,133,135,136,137,138,139,140,141,142,143,144,145,146,147,148,149,150,152,154,155,156,157,158,159,160,161,162,163,164,165,166,167,168,169,170,171,172,174,175,176,177,178,179,180,181,182,183,184,185,186,187,188,189,190,191,192,193,194,195,196,197];
const eRow100=[107,108,109,110,111,112,113,114,115,116];
const eRow35=[130,132,134,136,138,139,140,141,142,143,144,145,146,147,148,149,150,152,156,158,160,162,163,165];
const tcl1bExons=[96.1527,96.1556,96.1574];
const tcl1bCoding=[[96.1578,96.1591]];
const tcl1bSpan=[96.1527,96.1591], tcl1bArrow=[96.1543];
const tcl1aExons=[96.1806];
const tcl1aCoding=[[96.1763,96.1774],[96.1782,96.1792]];
const tcl1aSpan=[96.1763,96.1806], tcl1aArrow=[96.1799];
// LD E: rotated blocks, kb centre, kb height, half-lengths along both diagonals, r2
const ldEBlocks=[152.1,49.7,1.8,1,.25,205.8,40.1,1.2,.8,.6,202.8,37.8,.3,1.2,.6,219.5,32.4,1.8,.5,.6,198.2,37.2,.3,.3,.7,95.3,17.2,1.2,.6,.85,110,16.7,.6,1,.85,101,23.3,1.2,.3,.6,103.9,21.1,1.2,.7,.3,100.6,19.8,.5,1.2,.3,102.1,13.7,1.4,.9,.3,106.7,13.7,.6,1.2,.3,108.6,11.9,.6,1.2,.5,110.5,9.8,.6,1.2,.3,113.5,6.8,1.2,1,.35,111.8,2.5,1.2,.6,.45,123.5,7.6,.8,1,.5,123.5,3.2,1.2,1,.35,84.8,2.3,1.2,.6,.35,80.1,2.7,.4,1.3,.5,98.5,2,.5,1.1,.5,102.7,4.8,1,.5,.3,119.1,10.8,1.9,.2,.3,116.1,8.1,1.9,.3,.4,94.3,8.8,.2,1.4,.3,88.2,6.1,.2,1.9,.25,96.3,10.6,.3,.8,.6,91.2,9.1,.3,.8,.4,106.6,24,1.2,.2,.3,109.2,22,.3,.8,.4,127.2,3,.8,.3,.4,140.4,14.2,1.4,.3,.4,160.2,16.7,.2,1.4,.2,162.7,14.2,.3,1.4,.4,155.4,21.6,.2,1.4,.15,163.7,1.5,.5,1.2,.6,160.7,4.1,.6,1.2,.4,156.1,2.7,.5,.4,.6,154.1,2.3,.3,.3,.7,152.1,1.5,.3,.3,.7,149.5,2,.3,.3,.6,140.9,1,.6,.3,.8,138.9,2,.3,1.2,.3,135.3,1,.3,.8,.3,144.5,6.1,.3,.3,.4,141.9,6.6,.3,.3,.3,145,9.6,.3,.3,.3,153.1,7.1,.3,.8,.25,158.1,6.1,.3,.5,.3,166.8,9,.4,.4,.3,163.2,8.1,.3,1.2,.3,174.9,16.4,.8,.5,.45,182.7,14.7,.4,1.2,.85,184,13.2,.4,1,.5,187,10.3,1.1,1.1,.5,181.8,5.3,1.2,1.2,.5,177.4,9.1,.3,1.4,.35,181.5,10.1,1.4,.5,.5,185,8.1,1.2,.4,.6,187.6,6.1,.6,.3,.8,190.4,6.9,.5,1.2,.6,192.3,5.1,1.3,1,.35,178.4,3,.6,.6,.35,172.3,4.3,.3,1.2,.5,174.9,6.1,.5,.3,.5,186.5,1.5,.3,1.2,.6,190.1,3,1.4,.3,.4,194.7,13.5,.5,1.8,.5,191.6,15.7,.3,1.8,.3,188.1,16.7,1.4,.3,.3,198.2,14.9,.5,.5,.8,193.1,11.5,.3,1,.7,200.7,7.1,1.5,1.5,.55,205.3,7.9,1.2,.5,.5,198.9,5.4,1.2,.3,.9,195.2,2.2,.3,1.2,.4,207.3,13.7,1,1.2,.5,208.8,15.2,1.4,.6,.35,212.1,14.7,1.2,.6,.35,211.4,17.7,1.2,.5,.4,217.3,15.4,.6,.3,.85,218.2,11,2,.6,.6,216.5,8.4,1.4,1,.4,214.4,6.6,1.5,1.2,.35,217.8,3,1.4,1.1,.3,219.5,4.9,1.4,.7,.3,222.5,2,.8,.8,.7,201.2,19.8,.6,1.2,.35,203,21.6,.6,1,.3,205.3,23.6,.4,1,.35,197.9,21.1,1.2,.4,.35,195.2,25.6,.5,.8,.3,190.6,22.5,.5,.5,.45,191.9,21.1,.4,.4,.8,222.5,8.1,1.2,.3,.5,206.8,2,.3,1.4,.5,198.7,2,1,.2,.3,210.4,4.6,.3,1.2,.3,222.5,15.7,.3,.8,.3,220,59.1,.3,.3,.7,212.4,66.6,.2,.2,.4,207.3,52.9,.2,.5,.3,208.3,43.3,.2,.2,.5,198.7,33,.6,.2,.45,190.4,46.4,.2,.5,.2,197.7,43.1,.2,1,.15,174.9,79.8,.3,.3,.15,166.3,48.2,.4,.1,.3,123.7,30.7,.4,.2,.4,118.8,31.2,.2,.2,.7,142.9,40.4,1.2,.1,.2,282,16,2,1.4,.4,279,12,3,.7,.45,285,12,3,.7,.55,276,8,2.4,1.4,.25,282,8,2,2,.35,288,8,3,.7,.55,272,4,2,1.4,.35,278,3.5,2,2,.3,284,4,2,2,.45,290,4,3,.7,.5,294,3,2,.8,.5,270,1.5,2,1,.35,297,1,2,1,.7,292,1.5,1,1,.4,232,8,2,1,.4,237,5,1.5,1.5,.5,242,9,1.5,1,.3,247,4,2,1,.5,250,1.5,2,1,.5,255,6,2,1,.3,258,2,1.5,1,.6,262,3,2,1,.4,240,2,2,1,.4,228,3,2,1,.5,229,13,1.5,1,.3,228.7,42.4,2,2,.2,214,10,1.2,1.2,.3,209,9,1.2,.8,.3,203,12,1,1,.3,196,8,1,1,.3,180,13,1,.6,.3,225,12,1,.6,.3,222,11,.8,.8,.35,170,8,.6,.6,.3,176,12,.6,.6,.3,168,3,.6,.6,.5];
const legendTicks=[0,.25,.5,.75,1];

// ---------- helpers
const BLUE='#4A7FAC',GREY='#B6B7B9',DARKRED='#A8201F',RED='#EE2429',INK='#1c1c1c';
const FONT='"Liberation Sans",Arial,sans-serif';
const pairs=(f,n=2)=>{const o=[];for(let i=0;i<f.length;i+=n)o.push(f.slice(i,i+n));return o};
const ldStops=[[255,255,255],[253,208,196],[249,160,138],[243,101,79],[238,42,36]];
const ldHex=['#ffffff','#fdd0c4','#f9a08a','#f3654f','#ee2a24'];
const ldColor=r=>{const v=Math.max(0,Math.min(.9999,r))*4,i=Math.floor(v),f=v-i,a=ldStops[i],b=ldStops[i+1];return `rgb(${a.map((c,k)=>Math.round(c+(b[k]-c)*f)).join(',')})`};
const chrOf=x=>{for(const s of segments)if(x>=s[0]-3&&x<=s[1]+3)return s[2];return 1};
const grids=[],xAxes=[],yAxes=[],series=[];
function addGrid(g,x,y){grids.push(g);const i=grids.length-1;xAxes.push(Object.assign({gridIndex:i,type:'value'},x));yAxes.push(Object.assign({gridIndex:i,type:'value'},y));return i}
const line3={show:true,onZero:false,lineStyle:{color:'#000',width:3.4}};
const hidden={show:false};
const lbl=(size,margin,fmt,vals,extra)=>Object.assign({fontSize:size,color:INK,fontFamily:FONT,margin,formatter:fmt,customValues:vals,hideOverlap:false},extra||{});
const tick=(vals,len,w)=>({show:true,length:len,customValues:vals,lineStyle:{color:'#000',width:w}});
const nameStyle=(size,extra)=>Object.assign({fontSize:size,color:INK,fontFamily:FONT},extra||{});
function vline(i,xs,y0,y1,color,w){series.push({type:'custom',xAxisIndex:i,yAxisIndex:i,silent:true,animation:false,encode:{x:0,y:1},data:xs.map(x=>[x,y0,y1]),
 renderItem:(p,api)=>{const a=api.coord([api.value(0),api.value(1)]),b=api.coord([api.value(0),api.value(2)]);return {type:'line',shape:{x1:a[0],y1:a[1],x2:b[0],y2:b[1]},style:{stroke:color,lineWidth:w}}}})}
function hline(i,pts,color,w,dash){series.push({type:'line',xAxisIndex:i,yAxisIndex:i,silent:true,animation:false,symbol:'none',clip:false,data:pts,lineStyle:{color,width:w,type:dash||'solid',cap:'butt'}})}
function dots(i,data,color,size){series.push({type:'scatter',xAxisIndex:i,yAxisIndex:i,silent:true,animation:false,data,symbolSize:size,itemStyle:{color,opacity:1}})}
function boxes(i,spans,y0,y1){series.push({type:'custom',xAxisIndex:i,yAxisIndex:i,silent:true,animation:false,encode:{x:0,y:2},data:spans.map(s=>[s[0],s[1],y0,y1]),
 renderItem:(p,api)=>{const a=api.coord([api.value(0),api.value(3)]),b=api.coord([api.value(1),api.value(2)]);return {type:'rect',shape:{x:a[0],y:a[1],width:Math.max(1.4,b[0]-a[0]),height:b[1]-a[1]},style:{fill:'#5CA3DA',stroke:'#222',lineWidth:.6}}}})}

// ---------- Manhattan panels
function manhattan(top,h,sky,fringe,stems,redStems,grey,blue,red){
 const i=addGrid({left:58,top,width:921,height:h},
  {min:58,max:979,axisLine:line3,splitLine:hidden,axisTick:tick(chrTicks,3,2.4),
   // the trailing blank entry keeps ECharts from dropping the crowded "22" label
   axisLabel:lbl(14,6,v=>chrNames[chrTicks.indexOf(v)]||'',chrTicks.concat([979])),
   name:'Chromosome',nameLocation:'middle',nameGap:25,nameTextStyle:nameStyle(17.5)},
  {min:1.06,max:9.25,axisLine:line3,splitLine:hidden,axisTick:tick([2.5,5,7.5],2.5,2),
   axisLabel:lbl(14,6,v=>v.toFixed(1),[2.5,5,7.5]),
   name:'\u2212log10(p)',nameLocation:'middle',nameGap:32,nameTextStyle:nameStyle(17.5)});
 const cols=[];
 sky.forEach((arr,k)=>{const s=segments[k],w=(s[1]-s[0])/arr.length;arr.forEach((t,j)=>cols.push([s[0]+j*w,s[0]+(j+1)*w,t-solidTrim,s[2]]))});
 series.push({type:'custom',xAxisIndex:i,yAxisIndex:i,silent:true,animation:false,encode:{x:0,y:2},data:cols,
  renderItem:(p,api)=>{const a=api.coord([api.value(0),api.value(2)]),b=api.coord([api.value(1),floorP]);return {type:'rect',shape:{x:a[0],y:a[1],width:b[0]-a[0]+.4,height:b[1]-a[1]},style:{fill:api.value(3)%2?GREY:BLUE}}}});
 const fr=[];
 fringe.forEach((arr,k)=>{const s=segments[k],w=(s[1]-s[0])/arr.length;arr.forEach((t,j)=>fr.push([s[0]+(j+.5)*w,t,s[2]]))});
 series.push({type:'custom',xAxisIndex:i,yAxisIndex:i,silent:true,animation:false,encode:{x:0,y:1},data:fr,
  renderItem:(p,api)=>{const a=api.coord([api.value(0),api.value(1)]),b=api.coord([api.value(0),2.2]);return {type:'line',shape:{x1:a[0],y1:a[1],x2:b[0],y2:b[1]},style:{stroke:api.value(2)%2?GREY:BLUE,lineWidth:1.9}}}});
 const st=pairs(stems,3).map(s=>[s[0],s[1],s[2],chrOf(s[0])]);
 series.push({type:'custom',xAxisIndex:i,yAxisIndex:i,silent:true,animation:false,encode:{x:0,y:2},data:st,
  renderItem:(p,api)=>{const a=api.coord([api.value(0),api.value(2)]),b=api.coord([api.value(0),api.value(1)]);return {type:'line',shape:{x1:a[0],y1:a[1],x2:b[0],y2:b[1]},style:{stroke:api.value(3)%2?GREY:BLUE,lineWidth:2.1,lineDash:[2.6,.8]}}}});
 const sz=v=>v[1]>=5.35?4.4:2.7;
 dots(i,pairs(grey),GREY,sz);dots(i,pairs(blue),BLUE,sz);
 series.push({type:'custom',xAxisIndex:i,yAxisIndex:i,silent:true,animation:false,encode:{x:0,y:2},data:pairs(redStems,3),
  renderItem:(p,api)=>{const a=api.coord([api.value(0),api.value(2)]),b=api.coord([api.value(0),api.value(1)]);return {type:'line',shape:{x1:a[0],y1:a[1],x2:b[0],y2:b[1]},style:{stroke:DARKRED,lineWidth:4,lineCap:'round'}}}});
 dots(i,pairs(red),DARKRED,4.4);
 hline(i,[[58,threshold],[977,threshold]],'#000',2,[8,8.5]);
}
manhattan(63,260,skyA,fringeA,stemsA,redStemsA,greyA,blueA,redA);
manhattan(412,260,skyB,fringeB,stemsB,redStemsB,greyB,blueB,redB);
manhattan(762,259,skyC,fringeC,stemsC,redStemsC,greyC,blueC,redC);

// ---------- Panel D
const dMin=163.956,dMax=165.017,eMin=96.0651,eMax=96.3161;
const ldD=addGrid({left:1056,top:30,width:840,height:161.5},{min:dMin,max:dMax,show:false},{min:0,max:.2042,show:false});
const ldStep=.01138,ldOrigin=164.004,ldEnd=164.968;
const ldCells=[],ldFine=[];
ldDRows.forEach((row,k)=>{[...row].forEach((ch,j)=>{const r=+ch/10;if(!r)return;const x=ldOrigin+ldStep+(2*j+(k%2))*ldStep;if(x<ldEnd)ldCells.push([x,k*ldStep,r])})});
pairs(ldDSpecks,3).forEach(s=>ldFine.push([164+s[0]/1000,s[1]/1000,s[2]]));
series.push({type:'custom',xAxisIndex:ldD,yAxisIndex:ldD,silent:true,animation:false,clip:true,encode:{x:0,y:1},data:ldCells,
 renderItem:(p,api)=>{const c=api.coord([api.value(0),api.value(1)]),r=api.value(2),H=Math.abs(api.coord([api.value(0)+ldStep,0])[0]-c[0]);
  const kids=[{type:'polygon',shape:{points:[[c[0],c[1]-H],[c[0]+H,c[1]],[c[0],c[1]+H],[c[0]-H,c[1]]]},style:{fill:ldColor(r*.5)}}];
  const tt=[.12,.3,.48,.66,.84];
  tt.forEach((t,n)=>{if(n%2===0||r>.25)kids.push({type:'line',shape:{x1:c[0]-t*H,y1:c[1]-H+t*H,x2:c[0]-t*H+H,y2:c[1]+t*H},style:{stroke:ldColor(r*1.8),lineWidth:.9}});
   if(n%2===1)kids.push({type:'line',shape:{x1:c[0]-H+t*H,y1:c[1]+t*H,x2:c[0]+t*H,y2:c[1]-H+t*H},style:{stroke:ldColor(r*1.3),lineWidth:.8}})});
  return {type:'group',children:kids}}});
series.push({type:'custom',xAxisIndex:ldD,yAxisIndex:ldD,silent:true,animation:false,clip:true,encode:{x:0,y:1},data:ldFine,
 renderItem:(p,api)=>{const x=api.value(0),h=api.value(1),s=.0022;
  return {type:'polygon',shape:{points:[[x-s,h],[x,h+s],[x+s,h],[x,h-s]].map(q=>api.coord(q))},style:{fill:ldColor(api.value(2))}}}});
hline(ldD,[[ldOrigin,0],[ldEnd,0]],'#000',3.4);

const dMain=addGrid({left:1056,top:210,width:840,height:257},
 {min:dMin,max:dMax,axisLine:line3,splitLine:hidden,axisTick:tick([164,164.25,164.5,164.75,165],3,2.4),
  axisLabel:lbl(17.5,8,v=>v.toFixed(2),[164,164.25,164.5,164.75,165]),
  name:'Chr1 (Mb)',nameLocation:'middle',nameGap:28,nameTextStyle:nameStyle(17.5,{padding:[0,0,0,24]})},
 {min:-1.98,max:7.8,axisLine:line3,splitLine:hidden,axisTick:tick([0,2,4,6],3,2),
  axisLabel:lbl(17.5,7,v=>String(v),[0,2,4,6]),
  name:'\u2212log10(P)',nameLocation:'middle',nameGap:26,nameTextStyle:nameStyle(21,{padding:[0,0,0,28]})});
const dKb=k=>164+k/1000;
const dLow=[];
[[.05,dRow05],[.22,dRow22],[.42,dRow42]].forEach(([y,xs])=>xs.forEach(k=>dLow.push([dKb(k),y])));
dots(dMain,dLow.concat(pairs(dUpper).map(p=>[dKb(p[0]),p[1]]),pairs(dGrey).map(p=>[dKb(p[0]),p[1]])),GREY,5.8);
dots(dMain,pairs(dRed).map(p=>[dKb(p[0]),p[1]]),RED,5.8);
hline(dMain,[[dMin,threshold],[dMax,threshold]],'#000',3.6,[14,13.6]);
[[164.2444,6.76],[164.2431,6.08],[164.2423,5.26]].forEach(e=>hline(dMain,[[164.2275,7.44],e],'#000',1.1));
hline(dMain,[[pbx1Span[0],-1.03],[pbx1Span[1],-1.03]],'#000',2.8);
vline(dMain,pbx1Exons,-1.56,-.49,'#333',1);
boxes(dMain,pbx1Coding,-1.56,-.49);
series.push({type:'scatter',xAxisIndex:dMain,yAxisIndex:dMain,silent:true,animation:false,data:pbx1Arrows.map(x=>[x,-1.03]),symbol:'triangle',symbolRotate:-90,symbolSize:[13,10],itemStyle:{color:'#000',opacity:1}});

// ---------- Panel E
const ldE=addGrid({left:1057.7,top:530,width:825.3,height:267},{min:eMin,max:eMax,show:false},{min:0,max:.0812,show:false});
series.push({type:'custom',xAxisIndex:ldE,yAxisIndex:ldE,silent:true,animation:false,clip:true,encode:{x:0,y:1},data:pairs(ldEBlocks,5).map(b=>[96+b[0]/1000,b[1]/1000,b[2]/1000,b[3]/1000,b[4]]),
 renderItem:(p,api)=>{const x=api.value(0),h=api.value(1),a=api.value(2)*.7071,b=api.value(3)*.7071,r=api.value(4);
  const pts=[[x-a-b,h+a-b],[x-a+b,h+a+b],[x+a+b,h-a+b],[x+a-b,h-a-b]].map(q=>api.coord(q));
  return {type:'polygon',shape:{points:pts},style:{fill:ldColor(r)}}}});
hline(ldE,[[96.0762,0],[96.3046,0]],'#000',2.8);

const eTicks=[96.1,96.15,96.2,96.25,96.3];
const eMain=addGrid({left:1057.7,top:814,width:825.3,height:203.7},
 {min:eMin,max:eMax,axisLine:line3,splitLine:hidden,axisTick:tick(eTicks,3,2.4),
  axisLabel:lbl(17.5,7,v=>v.toFixed(2),eTicks,{padding:[0,34,0,0]}),
  name:'Chr14 (Mb)',nameLocation:'middle',nameGap:27,nameTextStyle:nameStyle(17.5,{padding:[0,0,0,30]})},
 {min:-5.2,max:9.02,axisLine:line3,splitLine:hidden,axisTick:tick([0,2.5,5,7.5],3,2),
  axisLabel:lbl(17.5,7,v=>v.toFixed(1),[0,2.5,5,7.5]),
  name:'\u2212log10(P)',nameLocation:'middle',nameGap:36,nameTextStyle:nameStyle(21,{padding:[0,0,0,38]})});
const eKb=k=>96+k/1000;
const eLow=[];
[[.7,eRow70],[.45,eRow45],[.15,eRow15],[1,eRow100],[.32,eRow35]].forEach(([y,xs])=>xs.forEach(k=>eLow.push([eKb(k),y])));
dots(eMain,eLow.concat(pairs(eRight).map(p=>[eKb(p[0]),p[1]]),pairs(eGrey).map(p=>[eKb(p[0]),p[1]])),GREY,5.8);
dots(eMain,pairs(eRed).map(p=>[eKb(p[0]),p[1]]),RED,5.8);
hline(eMain,[[eMin,threshold],[96.313,threshold]],'#000',3.4,[14,13.6]);
hline(eMain,[[tcl1bSpan[0],-1.68],[tcl1bSpan[1],-1.68]],'#000',2.6);
vline(eMain,tcl1bExons,-2.65,-.75,'#333',1);
boxes(eMain,tcl1bCoding,-2.65,-.75);
hline(eMain,[[tcl1aSpan[0],-4],[tcl1aSpan[1],-4]],'#000',2.6);
boxes(eMain,tcl1aCoding,-5.03,-3.07);
vline(eMain,tcl1aExons,-5.03,-3.07,'#333',1);
series.push({type:'scatter',xAxisIndex:eMain,yAxisIndex:eMain,silent:true,animation:false,data:[[tcl1bArrow[0],-1.68],[tcl1aArrow[0],-4]],symbol:'triangle',symbolRotate:90,symbolSize:[13,9],itemStyle:{color:'#000',opacity:1}});

// ---------- r2 colour bars
function colorBar(left,top,w,h){
 const i=addGrid({left,top,width:w,height:h},{min:0,max:1,show:false},
  {min:0,max:1,position:'right',axisLine:hidden,axisTick:hidden,splitLine:hidden,
   axisLabel:lbl(10.5,7,v=>v.toFixed(2),legendTicks,{color:'#333'})});
 series.push({type:'custom',xAxisIndex:i,yAxisIndex:i,silent:true,animation:false,encode:{x:0,y:1},data:[[0,1,0]],
  renderItem:(p,api)=>{const a=api.coord([0,1]),b=api.coord([1,0]);return {type:'rect',shape:{x:a[0],y:a[1],width:b[0]-a[0],height:b[1]-a[1],r:[2,2,0,0]},
   style:{fill:new echarts.graphic.LinearGradient(0,1,0,0,ldHex.map((c,k)=>({offset:k/4,color:c})))}}}});
 series.push({type:'custom',xAxisIndex:i,yAxisIndex:i,silent:true,animation:false,encode:{x:0,y:1},data:legendTicks.slice(1,4).map(v=>[v]),
  renderItem:(p,api)=>{const v=api.value(0),a=api.coord([0,v]),b=api.coord([1,v]);return {type:'group',children:[
   {type:'line',shape:{x1:a[0],y1:a[1],x2:a[0]+4,y2:a[1]},style:{stroke:'#fff',lineWidth:1}},
   {type:'line',shape:{x1:b[0]-4,y1:a[1],x2:b[0],y2:a[1]},style:{stroke:'#fff',lineWidth:1}}]}}});
}
colorBar(1872,90.7,21,99.7);
colorBar(1870,689,22,101);

// ---------- free text
const T=(text,x,y,size,o)=>({type:'text',x,y,silent:true,style:Object.assign({text,fontSize:size,fontFamily:FONT,fill:INK,align:'left',verticalAlign:'middle'},o||{})});
const it={fontStyle:'italic'},mid={align:'center'};
const graphic=[
 T('A',1,18,38),T('B',2,380,38),T('C',1,728,38),T('D',982,17,38),T('E',982,559,38),
 T('Autosomal mCAs',58,43,21),T('ChrX mCAs',58,392.5,21),T('mChrY loss',58,741.5,21),
 T('1q23.3',150,447.7,14,mid),T('14q32.13',769.3,762.7,14.4,mid),
 T('rs78826070',1287.3,237.3,16,it),T('rs79387538',1287.3,256.7,16,it),T('rs74402243',1287.3,276.3,16,it),
 T('rs2887399',1451,815.5,16,it),
 T('PBX1',1473,431.7,17,Object.assign({},it,mid)),
 T('TCL1B',1306.3,975,17,Object.assign({},it,mid)),T('TCL1A',1450,995.7,17,it),
 T('r\u00b2',1882,78,20,mid),T('r\u00b2',1881,677,20,mid)
];
const chart=echarts.init(document.getElementById('c'),null,{renderer:'canvas',width:1920,height:1064});
chart.setOption({animation:false,backgroundColor:'#fff',textStyle:{fontFamily:FONT},grid:grids,xAxis:xAxes,yAxis:yAxes,series,graphic});
</script></body></html>
